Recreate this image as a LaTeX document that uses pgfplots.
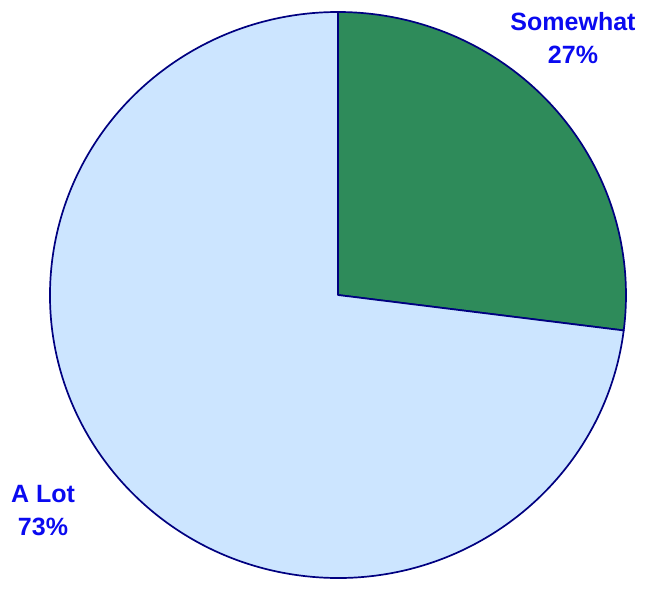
\documentclass[border=0pt]{standalone}
\usepackage{fontspec}
\setmainfont{Liberation Sans}
\usepackage{pgfplots}
\usepackage{pgfplotstable}
\pgfplotsset{compat=1.18}

\definecolor{slicegreen}{RGB}{46,139,90}
\definecolor{sliceblue}{RGB}{204,229,255}
\definecolor{edgenavy}{RGB}{0,0,128}
\definecolor{labelblue}{RGB}{10,10,240}

% share of each answer, in percent
\pgfplotstableread{
label     value
Somewhat  27
ALot      73
}\piedata

\begin{document}
\begin{tikzpicture}
\begin{axis}[
    scale only axis,
    width=648pt, height=579pt,
    xmin=0, xmax=648, ymin=0, ymax=579,
    axis lines=none,
    clip=false,
]
\pgfplotstablegetelem{0}{value}\of\piedata
\pgfmathsetmacro{\va}{\pgfplotsretval}
\pgfplotstablegetelem{1}{value}\of\piedata
\pgfmathsetmacro{\vb}{\pgfplotsretval}
\pgfmathsetmacro{\tot}{\va+\vb}
\pgfmathsetmacro{\angA}{90-360*(\va/\tot)}
\pgfmathsetmacro{\angB}{\angA-360*(\vb/\tot)}
% keep the whole canvas as the page
\path (axis cs:0,0) rectangle (axis cs:648,579);
% Somewhat: clockwise from 12 o'clock
\filldraw[fill=slicegreen, draw=edgenavy, line width=1.7pt, line join=round]
  (axis cs:338,284) -- +(90:288pt and 283pt)
  arc[start angle=90, end angle=\angA, x radius=288pt, y radius=283pt] -- cycle;
% A Lot: the rest
\filldraw[fill=sliceblue, draw=edgenavy, line width=1.7pt, line join=round]
  (axis cs:338,284) -- +(\angA:288pt and 283pt)
  arc[start angle=\angA, end angle=\angB, x radius=288pt, y radius=283pt] -- cycle;
\node[font=\fontsize{25}{33}\selectfont\bfseries, text=labelblue, align=center]
  at (axis cs:573,541) {Somewhat\\\pgfmathprintnumber[assume math mode=true]{\va}\%};
\node[font=\fontsize{25}{33}\selectfont\bfseries, text=labelblue, align=center]
  at (axis cs:43,68) {A Lot\\\pgfmathprintnumber[assume math mode=true]{\vb}\%};
\end{axis}
\end{tikzpicture}
\end{document}
